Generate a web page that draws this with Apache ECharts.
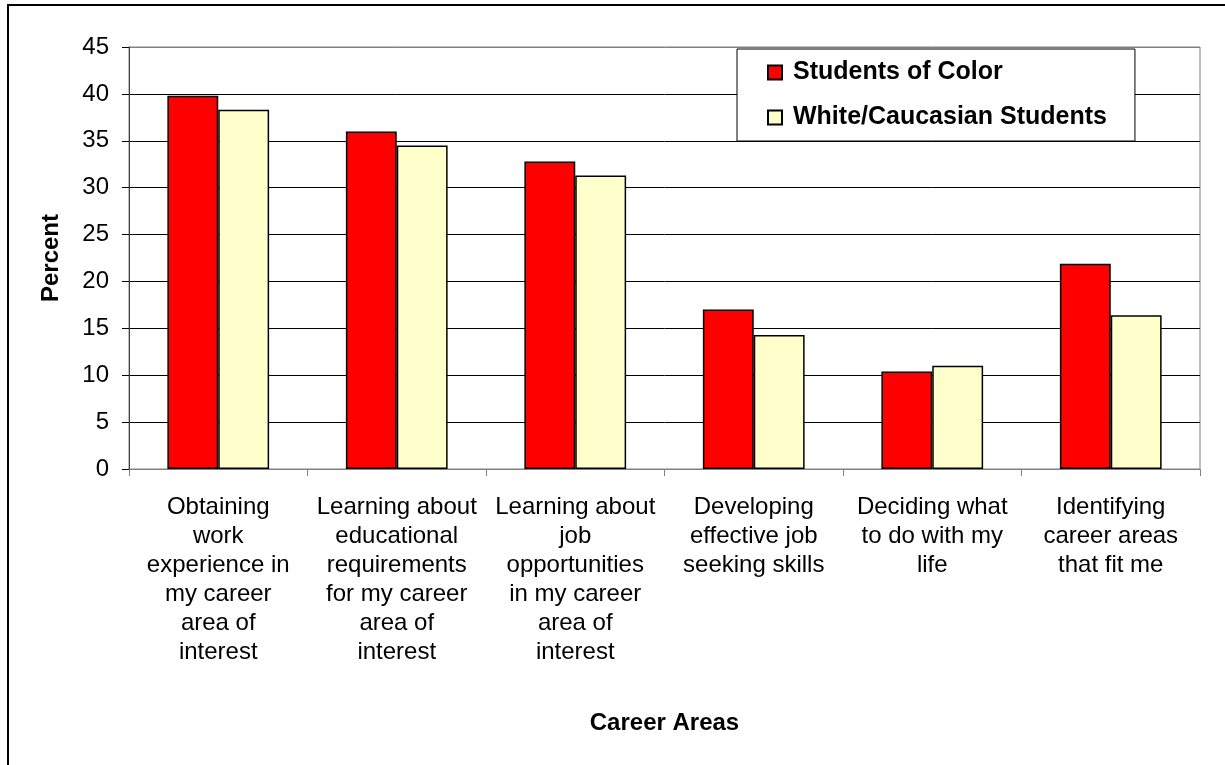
<!DOCTYPE html>
<html>
<head>
<meta charset="utf-8">
<script src="https://cdn.jsdelivr.net/npm/echarts@6/dist/echarts.min.js"></script>
<style>
  html, body { margin: 0; padding: 0; background: #fff; }
  #chart { width: 1225px; height: 765px; }
</style>
</head>
<body>
<div id="chart"></div>
<script>
// Career areas where students want more help, by student group (percent)
const categories = [
  "Obtaining\nwork\nexperience in\nmy career\narea of\ninterest",
  "Learning about\neducational\nrequirements\nfor my career\narea of\ninterest",
  "Learning about\njob\nopportunities\nin my career\narea of\ninterest",
  "Developing\neffective job\nseeking skills",
  "Deciding what\nto do with my\nlife",
  "Identifying\ncareer areas\nthat fit me"
];
const seriesNames = ["Students of Color", "White/Caucasian Students"];
const studentsOfColor = [39.8, 36.0, 32.8, 17.0, 10.4, 21.9];
const whiteStudents = [38.3, 34.5, 31.3, 14.3, 11.0, 16.4];
const yTicks = { min: 0, max: 45, interval: 5 };

const FONT = "'Liberation Sans', Arial, sans-serif";
const chart = echarts.init(document.getElementById('chart'));

chart.setOption({
  animation: false,
  backgroundColor: '#ffffff',
  textStyle: { fontFamily: FONT, color: '#000' },
  graphic: [{
    type: 'rect',
    shape: { x: 8, y: 5, width: 1300, height: 900 },
    style: { fill: 'none', stroke: '#000', lineWidth: 2 },
    silent: true
  }],
  grid: {
    left: 129, top: 47, right: 25, bottom: 296,
    show: true, borderColor: '#808080', borderWidth: 1,
    containLabel: false
  },
  legend: {
    orient: 'vertical',
    left: 737, top: 49,
    padding: [11, 28, 11, 30],
    itemWidth: 14, itemHeight: 14,
    itemGap: 20,
    icon: 'rect',
    backgroundColor: '#fff',
    borderColor: '#000', borderWidth: 1,
    textStyle: { fontFamily: FONT, fontSize: 25, fontWeight: 'bold', color: '#000', lineHeight: 25, padding: [0, 0, 0, 6] },
    data: seriesNames
  },
  xAxis: {
    type: 'category',
    data: categories,
    name: 'Career Areas',
    nameLocation: 'middle',
    nameGap: 242,
    nameTextStyle: { fontFamily: FONT, fontSize: 24, fontWeight: 'bold', color: '#000' },
    axisLine: { lineStyle: { color: '#808080', width: 1 } },
    axisTick: { show: true, length: 7, lineStyle: { color: '#808080' } },
    axisLabel: { interval: 0, fontFamily: FONT, fontSize: 24, lineHeight: 29, color: '#000', margin: 24, align: 'center' }
  },
  yAxis: {
    type: 'value',
    min: yTicks.min, max: yTicks.max, interval: yTicks.interval,
    name: 'Percent',
    nameLocation: 'middle',
    nameGap: 66,
    nameRotate: 90,
    nameTextStyle: { fontFamily: FONT, fontSize: 24, fontWeight: 'bold', color: '#000' },
    axisLine: { show: true, lineStyle: { color: '#404040', width: 1 } },
    axisTick: { show: true, length: 7, lineStyle: { color: '#000' } },
    axisLabel: { fontFamily: FONT, fontSize: 24, color: '#000', margin: 20 },
    splitLine: {
      show: true,
      lineStyle: { color: ['#808080', '#000', '#000', '#000', '#000', '#000', '#000', '#000', '#000', '#808080'], width: 1 }
    }
  },
  series: [
    {
      name: seriesNames[0], type: 'bar', data: studentsOfColor,
      barGap: '0%', barCategoryGap: '43%',
      itemStyle: { color: '#FF0000', borderColor: '#000', borderWidth: 1.5 }
    },
    {
      name: seriesNames[1], type: 'bar', data: whiteStudents,
      barGap: '0%', barCategoryGap: '43%',
      itemStyle: { color: '#FFFFCC', borderColor: '#000', borderWidth: 1.5 }
    }
  ]
});
</script>
</body>
</html>
